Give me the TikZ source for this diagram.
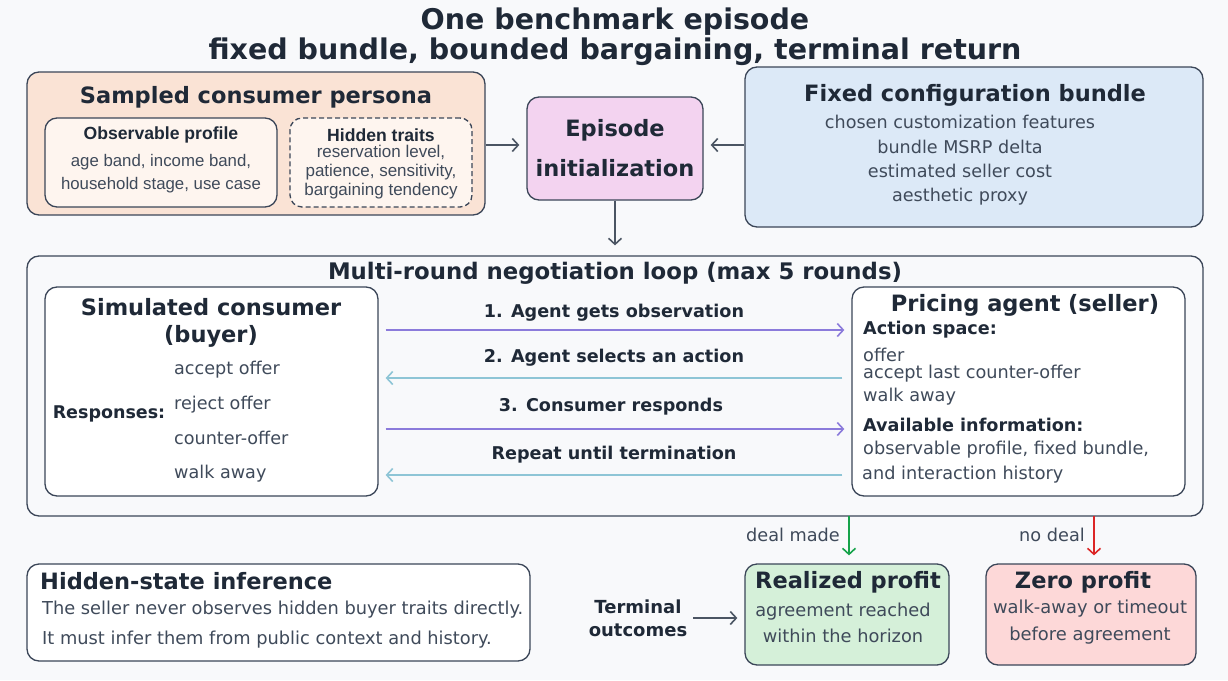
\documentclass[tikz,border=0pt]{standalone}
\usepackage{fontspec}
\setmainfont{DejaVu Sans}
\newfontfamily\arialf{Liberation Sans}
\usetikzlibrary{arrows.meta}
\definecolor{bgc}{HTML}{F8F9FB}
\definecolor{ink}{HTML}{1F2937}
\definecolor{bodyc}{HTML}{3F4A5A}
\definecolor{edgec}{HTML}{3B4658}
\definecolor{peachc}{HTML}{FAE3D5}
\definecolor{peachlt}{HTML}{FEF5EF}
\definecolor{pinkc}{HTML}{F3D3F0}
\definecolor{bluec}{HTML}{DCE9F7}
\definecolor{okfill}{HTML}{D5F0D9}
\definecolor{nofill}{HTML}{FDD8D8}
\definecolor{purplec}{HTML}{8B7BDB}
\definecolor{cyanc}{HTML}{8EC5D6}
\definecolor{okc}{HTML}{16A34A}
\definecolor{noc}{HTML}{DC2626}
\definecolor{grayc}{HTML}{4B5563}
\begin{document}
\begin{tikzpicture}[x=1pt,y=-1pt,
  box/.style={draw=edgec, line width=1.3pt, rounded corners=12pt, inner sep=0pt},
  ttl/.style={font=\bfseries\fontsize{22.5}{27}\selectfont, text=ink, align=center, inner sep=0pt},
  sub/.style={font=\bfseries\fontsize{17.6}{23}\selectfont, text=ink, align=center, inner sep=0pt},
  txt/.style={font=\fontsize{17.7}{23}\selectfont, text=bodyc, align=center, inner sep=0pt},
  tip/.style={-{Straight Barb[length=6pt,width=13pt]}, line width=1.6pt},
  conn/.style={tip, draw=grayc},
]
\fill[bgc] (0,0) rectangle (1228,680);
\useasboundingbox (0,0) rectangle (1228,680);

% title
\node[font=\bfseries\fontsize{28.5}{32}\selectfont, text=ink, inner sep=0pt] (t1) at (615,21.5) {One benchmark episode};
\node[font=\bfseries\fontsize{28.5}{32}\selectfont, text=ink, inner sep=0pt] (t2) at (615,51.5) {fixed bundle, bounded bargaining, terminal return};

% persona
\node[box, fill=peachc, minimum width=458pt, minimum height=143pt] (persona) at (256,143.5) {};
\node[ttl] (personat) at (256,97) {Sampled consumer persona};
\node[box, fill=peachlt, minimum width=232pt, minimum height=89pt] (obs) at (161,162.5) {};
\node[sub, font=\arialf\bfseries\fontsize{17.6}{19}\selectfont] (obst) at (161,134.5) {Observable profile};
\node[txt, font=\arialf\fontsize{16.8}{23}\selectfont] (obsb) at (161,174) {age band, income band,\\household stage, use case};
\node[box, dashed, dash pattern=on 5pt off 3pt, fill=peachlt, minimum width=182pt, minimum height=89pt] (hid) at (381,162.5) {};
\node[sub, font=\arialf\bfseries\fontsize{17.6}{19}\selectfont] (hidt) at (381,135) {Hidden traits};
\node[txt, font=\arialf\fontsize{17}{18.7}\selectfont] (hidb) at (381,172) {reservation level,\\patience, sensitivity,\\bargaining tendency};

% episode
\node[box, fill=pinkc, minimum width=176pt, minimum height=103pt] (episode) at (615,148.5) {};
\node[ttl] (ept1) at (615,130) {Episode};
\node[ttl] (ept2) at (615,168) {initialization};

% config
\node[box, fill=bluec, minimum width=458pt, minimum height=160pt] (config) at (974,147) {};
\node[ttl] (configt) at (975,95) {Fixed configuration bundle};
\node[txt, font=\fontsize{17.6}{24.3}\selectfont] (configb) at (960,160.5) {chosen customization features\\bundle MSRP delta\\estimated seller cost\\aesthetic proxy};

\draw[conn, shorten >=7pt] (persona.east |- 0,145) -- (episode.west |- 0,145);
\draw[conn, shorten >=7pt] (config.west |- 0,145) -- (episode.east |- 0,145);

% loop
\node[box, fill=bgc, minimum width=1176pt, minimum height=260pt] (loop) at (615,386) {};
\draw[conn, shorten >=10pt] (episode.south) -- (loop.north);
\node[ttl, font=\bfseries\fontsize{22.8}{26}\selectfont] (loopt) at (615,273) {Multi-round negotiation loop (max 5 rounds)};

\node[box, fill=white, minimum width=333pt, minimum height=209pt] (buyer) at (211.5,391.5) {};
\node[ttl] (buyert) at (211,322.5) {Simulated consumer\\(buyer)};
\node[sub, font=\bfseries\fontsize{17.5}{19}\selectfont] (resp) at (109,414) {Responses:};
\node[txt, align=left, anchor=west, font=\fontsize{17.6}{34.7}\selectfont] (respl) at (174,422) {accept offer\\reject offer\\counter-offer\\walk away};

\node[box, fill=white, minimum width=333pt, minimum height=209pt] (seller) at (1018.5,391.5) {};
\node[ttl] (sellert) at (1025,305) {Pricing agent\,\,(seller)};
\node[sub, anchor=west] (acts) at (863,330) {Action space:};
\node[txt, anchor=west, align=left] (act1) at (863,355) {offer};
\node[txt, anchor=west, align=left] (act2) at (863,374) {accept last counter-offer};
\node[txt, anchor=west, align=left] (act3) at (863,397) {walk away};
\node[sub, anchor=west] (avail) at (863,425) {Available information:};
\node[txt, anchor=west, align=left] (av1) at (863,450) {observable profile, fixed bundle,};
\node[txt, anchor=west, align=left] (av2) at (862,475) {and interaction history};

\draw[tip, draw=purplec, shorten <=7pt, shorten >=7pt] (buyer.east |- 0,330) -- (seller.west |- 0,330);
\draw[tip, draw=cyanc, shorten <=9pt, shorten >=7pt] (seller.west |- 0,378) -- (buyer.east |- 0,378);
\draw[tip, draw=purplec, shorten <=7pt, shorten >=7pt] (buyer.east |- 0,429) -- (seller.west |- 0,429);
\draw[tip, draw=cyanc, shorten <=9pt, shorten >=7pt] (seller.west |- 0,475) -- (buyer.east |- 0,475);
\node[sub] (l1) at (614,313) {1. Agent gets observation};
\node[sub] (l2) at (614,358) {2. Agent selects an action};
\node[sub] (l3) at (611,407) {3. Consumer responds};
\node[sub] (l4) at (614,455) {Repeat until termination};

% bottom
\node[box, fill=white, minimum width=503pt, minimum height=97pt] (infer) at (278.5,612.5) {};
\node[ttl, anchor=west] (infert) at (40,581) {Hidden-state inference};
\node[txt, anchor=west, align=left, font=\fontsize{17.8}{30}\selectfont] (inferb) at (42,625) {The seller never observes hidden buyer traits directly.\\It must infer them from public context and history.};

\node[box, fill=okfill, minimum width=204pt, minimum height=101pt] (real) at (847,614.5) {};
\node[ttl] (realt) at (848,582) {Realized profit};
\node[txt, font=\fontsize{17.8}{26}\selectfont] (realb) at (843,623) {agreement reached\\within the horizon};

\node[box, fill=nofill, minimum width=210pt, minimum height=101pt] (zero) at (1091,614.5) {};
\node[ttl] (zerot) at (1083,582) {Zero profit};
\node[txt, font=\fontsize{17.9}{27}\selectfont] (zerob) at (1090,622.5) {walk-away or timeout\\before agreement};

\node[sub, font=\bfseries\fontsize{18}{23}\selectfont] (term) at (638,618.5) {Terminal\\outcomes};
\draw[conn, shorten <=6pt, shorten >=7pt] (term.east |- 0,618) -- (real.west |- 0,618);

\draw[tip, draw=okc, shorten >=8pt] (849,516) -- (real.north -| 849,0);
\draw[tip, draw=noc, shorten >=8pt] (1094,516) -- (zero.north -| 1094,0);
\node[txt] (dm) at (793,535) {deal made};
\node[txt] (nd) at (1052,535) {no deal};
\end{tikzpicture}
\end{document}
